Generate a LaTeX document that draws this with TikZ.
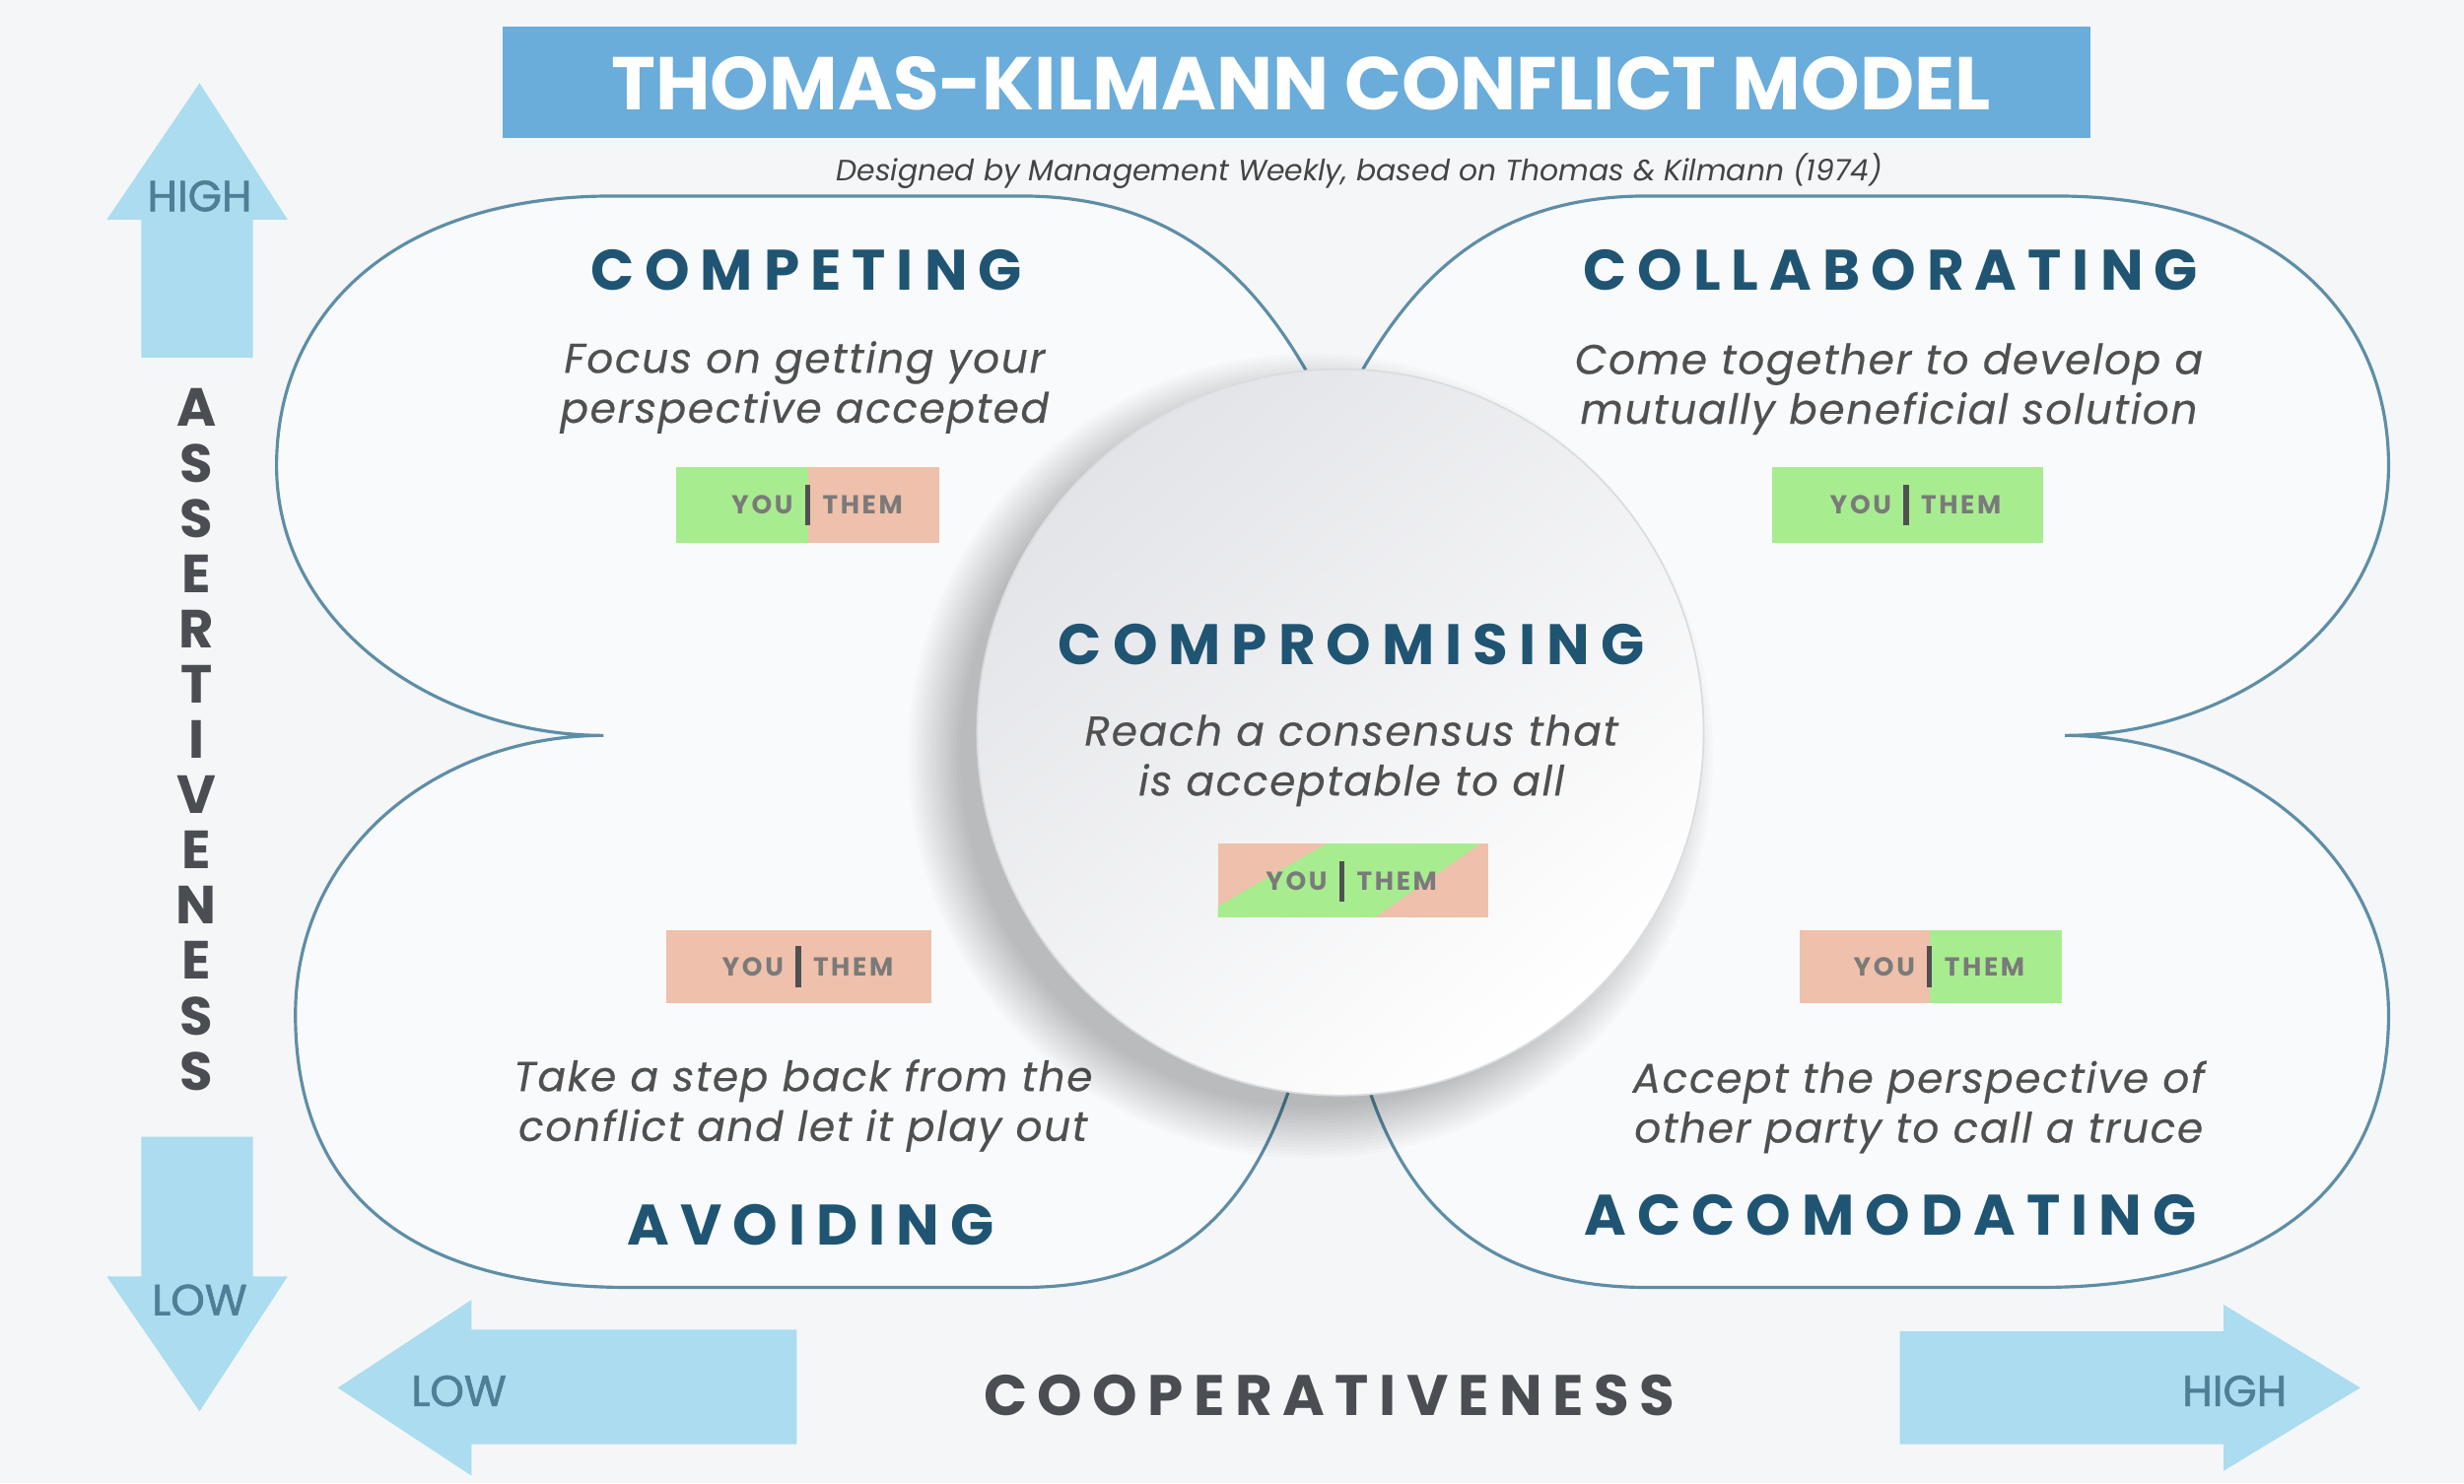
\documentclass[tikz,border=0pt]{standalone}
\usepackage{fontspec}
\setmainfont{Poppins}
\newfontfamily\headfont[LetterSpace=19]{Poppins}
\newfontfamily\descfont[LetterSpace=4,FakeBold=0.4]{Poppins}
\newfontfamily\axisfont[LetterSpace=18]{Poppins}
\newfontfamily\badgefont[LetterSpace=10]{Poppins}
\newfontfamily\medfont[FakeBold=1.5]{Poppins}
\definecolor{bg}{HTML}{F4F6F8}
\definecolor{lobefill}{HTML}{F9FAFB}
\definecolor{titlebar}{HTML}{6AACDA}
\definecolor{arrowblue}{HTML}{ABDCEF}
\definecolor{arrowtext}{HTML}{4F7E96}
\definecolor{headcol}{HTML}{1F5573}
\definecolor{desccol}{HTML}{505050}
\definecolor{subcol}{HTML}{444444}
\definecolor{axiscol}{HTML}{4A4D52}
\definecolor{lobeline}{HTML}{5E8EA6}
\definecolor{yougreen}{HTML}{A8EC90}
\definecolor{themsalmon}{HTML}{EFC0AB}
\definecolor{badgetext}{HTML}{7A7A7A}
\definecolor{badgebar}{HTML}{505050}
\definecolor{circgrey}{HTML}{E3E4E8}
\definecolor{circedge}{HTML}{DADCE0}

% #1 name, #2 x-left, #3 x-divider, #4 x-right, #5 y-top, #6 y-bottom, #7 left colour, #8 right colour
\newcommand{\ytbadge}[8]{%
  \fill[#7] (#2,#5) rectangle (#3,#6);
  \fill[#8] (#3,#5) rectangle (#4,#6);
  \node[badgetxt, anchor=east] (#1you) at ({#3-9},{(#5+#6)/2}) {YOU};
  \node[badgetxt, anchor=west] (#1them) at ({#3+9},{(#5+#6)/2}) {THEM};
  \fill[badgebar] ({#3-1.6},{(#5+#6)/2-13}) rectangle ({#3+1.6},{(#5+#6)/2+13});
}

\begin{document}
\begin{tikzpicture}[x=0.015944cm, y=-0.01592cm,
  heading/.style={font=\headfont\bfseries\fontsize{16.5}{18}\selectfont, text=headcol, inner sep=0pt},
  desc/.style={font=\descfont\itshape\fontsize{12}{14.4}\selectfont, text=desccol, align=center, inner sep=0pt},
  badgetxt/.style={font=\badgefont\bfseries\fontsize{7.5}{8}\selectfont, text=badgetext, inner sep=0pt},
  arrowlbl/.style={font=\medfont\fontsize{12.5}{13}\selectfont, text=arrowtext, inner sep=0pt},
  axislbl/.style={font=\bfseries\fontsize{15.5}{16}\selectfont, text=axiscol, inner sep=0pt},
  lobe/.style={draw=lobeline, line width=0.9pt, fill=lobefill},
]
\fill[bg] (0,0) rectangle (1568,946);
\useasboundingbox (0,0) rectangle (1568,946);

% title
\fill[titlebar] (320,17) rectangle (1330,88);
\node[font=\bfseries\fontsize{21.6}{23}\selectfont, text=white, inner sep=0pt] (title) at (828,53) {THOMAS-KILMANN CONFLICT MODEL};
\node[font=\itshape\fontsize{8.5}{10}\selectfont, text=subcol, inner sep=0pt] (subtitle) at (865,109) {Designed by Management Weekly, based on Thomas \& Kilmann (1974)};

% lobes
\path[lobe] (849,270) .. controls (810,190) and (760,125) .. (650,125) -- (390,125)
  .. controls (250,125) and (176,200) .. (176,297)
  .. controls (176,400) and (280,469) .. (384,469)
  .. controls (280,469) and (188,540) .. (188,647)
  .. controls (188,760) and (260,821) .. (400,821) -- (650,821)
  .. controls (760,821) and (810,760) .. (835,640) -- (858,640)
  .. controls (878,760) and (938,821) .. (1048,821) -- (1298,821)
  .. controls (1438,821) and (1520,760) .. (1520,647)
  .. controls (1520,540) and (1418,469) .. (1314,469)
  .. controls (1418,469) and (1520,400) .. (1520,297)
  .. controls (1520,200) and (1448,125) .. (1308,125) -- (1048,125)
  .. controls (938,125) and (888,190) .. (849,270) -- cycle;

% quadrant texts
\node[heading] (comph) at (513,172) {COMPETING};
\node[desc] (compd) at (512,247) {Focus on getting your\\perspective accepted};
\ytbadge{compb}{430}{514}{598}{298}{346}{yougreen}{themsalmon}

\node[heading] (collh) at (1203,172) {COLLABORATING};
\node[desc] (colld) at (1202,248) {Come together to develop a\\mutually beneficial solution};
\ytbadge{collb}{1128}{1213}{1300}{298}{346}{yougreen}{yougreen}

\node[heading] (avoh) at (516,781) {AVOIDING};
\node[desc] (avod) at (511,705) {Take a step back from the\\conflict and let it play out};
\ytbadge{avob}{424}{508}{593}{593}{640}{themsalmon}{themsalmon}

\node[heading] (acch) at (1203,775) {ACCOMODATING};
\node[desc] (accd) at (1221,706) {Accept the perspective of\\other party to call a truce};
\ytbadge{accb}{1145}{1228}{1312}{593}{640}{themsalmon}{yougreen}

% centre circle with shadow
\foreach \k in {0,...,15} {
  \fill[black, opacity=0.016] (834,482) circle[radius={(224+\k*2.2)*0.452pt}];
}
\node[circle, minimum size={464*0.452pt}, inner sep=0pt, top color=circgrey, bottom color=white, shading angle=40, draw=circedge, line width=0.5pt] (circ) at (853,467) {};

\node[heading] (cmph) at (860,411) {COMPROMISING};
\node[desc] (cmpd) at (860,485) {Reach a consensus that\\is acceptable to all};
\fill[themsalmon] (775,538) rectangle (947,585);
\fill[yougreen] (775,585) -- (775,578) -- (844,538) -- (942,538) -- (875,585) -- cycle;
\node[badgetxt, anchor=east] (cmpyou) at (845,562) {YOU};
\node[badgetxt, anchor=west] (cmpthem) at (863,562) {THEM};
\fill[badgebar] (852.4,549) rectangle (855.6,575);

% assertiveness axis
\fill[arrowblue] (90,228) -- (90,140) -- (68,140) -- (127,53) -- (183,140) -- (161,140) -- (161,228) -- cycle;
\node[arrowlbl] (hiV) at (127,125) {HIGH};
\fill[arrowblue] (90,725) -- (90,814) -- (68,814) -- (127,900) -- (183,814) -- (161,814) -- (161,725) -- cycle;
\node[arrowlbl] (loV) at (127,829) {LOW};
\foreach \L [count=\i from 0] in {A,S,S,E,R,T,I,V,E,N,E,S,S} {
  \node[axislbl] (as\i) at (125,{260+\i*35.25}) {\L};
}

% cooperativeness axis
\fill[arrowblue] (507,848) -- (300,848) -- (300,829) -- (215,885) -- (300,941) -- (300,921) -- (507,921) -- cycle;
\node[arrowlbl] (loH) at (292,887) {LOW};
\fill[arrowblue] (1209,849) -- (1415,849) -- (1415,832) -- (1502,885) -- (1415,938) -- (1415,921) -- (1209,921) -- cycle;
\node[arrowlbl] (hiH) at (1422,887) {HIGH};
\node[axislbl, font=\axisfont\bfseries\fontsize{16.5}{17}\selectfont] (coop) at (846,890) {COOPERATIVENESS};
\end{tikzpicture}
\end{document}
